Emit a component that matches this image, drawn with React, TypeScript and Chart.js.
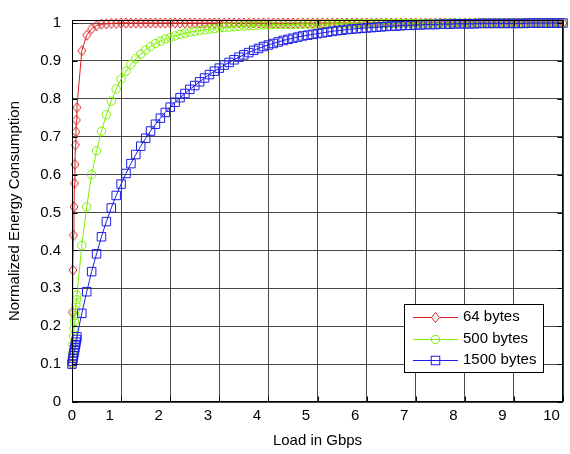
import React, { useEffect, useRef } from 'react';
import { Chart, registerables } from 'chart.js';

Chart.register(...registerables);

// Load in Gbps (shared sampling for all three curves)
const loads = [
  0, 0.01, 0.02, 0.03, 0.04, 0.05, 0.06, 0.07, 0.08, 0.09, 0.1,
  0.2, 0.3, 0.4, 0.5, 0.6, 0.7, 0.8, 0.9, 1,
  1.1, 1.2, 1.3, 1.4, 1.5, 1.6, 1.7, 1.8, 1.9, 2,
  2.1, 2.2, 2.3, 2.4, 2.5, 2.6, 2.7, 2.8, 2.9, 3,
  3.1, 3.2, 3.3, 3.4, 3.5, 3.6, 3.7, 3.8, 3.9, 4,
  4.1, 4.2, 4.3, 4.4, 4.5, 4.6, 4.7, 4.8, 4.9, 5,
  5.1, 5.2, 5.3, 5.4, 5.5, 5.6, 5.7, 5.8, 5.9, 6,
  6.1, 6.2, 6.3, 6.4, 6.5, 6.6, 6.7, 6.8, 6.9, 7,
  7.1, 7.2, 7.3, 7.4, 7.5, 7.6, 7.7, 7.8, 7.9, 8,
  8.1, 8.2, 8.3, 8.4, 8.5, 8.6, 8.7, 8.8, 8.9, 9,
  9.1, 9.2, 9.3, 9.4, 9.5, 9.6, 9.7, 9.8, 9.9, 10,
];

const energy64 = [
  0.1, 0.237, 0.348, 0.44, 0.515, 0.577, 0.627, 0.678, 0.713, 0.744, 0.777,
  0.927, 0.968, 0.985, 0.993, 0.997, 0.998, 0.999, 0.999, 1,
  1, 1, 1, 1, 1, 1, 1, 1, 1, 1,
  1, 1, 1, 1, 1, 1, 1, 1, 1, 1,
  1, 1, 1, 1, 1, 1, 1, 1, 1, 1,
  1, 1, 1, 1, 1, 1, 1, 1, 1, 1,
  1, 1, 1, 1, 1, 1, 1, 1, 1, 1,
  1, 1, 1, 1, 1, 1, 1, 1, 1, 1,
  1, 1, 1, 1, 1, 1, 1, 1, 1, 1,
  1, 1, 1, 1, 1, 1, 1, 1, 1, 1,
  1, 1, 1, 1, 1, 1, 1, 1, 1, 1,
];

const energy500 = [
  0.1, 0.128, 0.152, 0.174, 0.194, 0.212, 0.228, 0.243, 0.257, 0.27, 0.282,
  0.413, 0.515, 0.6, 0.663, 0.715, 0.758, 0.794, 0.826, 0.852,
  0.873, 0.891, 0.906, 0.918, 0.929, 0.938, 0.946, 0.952, 0.958, 0.962,
  0.966, 0.97, 0.973, 0.976, 0.978, 0.98, 0.982, 0.984, 0.985, 0.987,
  0.988, 0.989, 0.99, 0.991, 0.992, 0.993, 0.993, 0.994, 0.995, 0.995,
  0.996, 0.996, 0.996, 0.996, 0.996, 0.997, 0.997, 0.997, 0.997, 0.997,
  0.997, 0.997, 0.998, 0.998, 0.998, 0.998, 0.998, 0.998, 0.998, 0.998,
  0.999, 0.999, 0.999, 0.999, 0.999, 0.999, 0.999, 0.999, 0.999, 0.999,
  0.999, 0.999, 0.999, 0.999, 0.999, 1, 1, 1, 1, 1,
  1, 1, 1, 1, 1, 1, 1, 1, 1, 1,
  1, 1, 1, 1, 1, 1, 1, 1, 1, 1,
];

const energy1500 = [
  0.1, 0.108, 0.115, 0.122, 0.13, 0.137, 0.144, 0.151, 0.158, 0.165, 0.172,
  0.234, 0.291, 0.344, 0.391, 0.436, 0.476, 0.512, 0.545, 0.575,
  0.603, 0.629, 0.653, 0.675, 0.696, 0.715, 0.733, 0.749, 0.764, 0.778,
  0.791, 0.803, 0.814, 0.825, 0.835, 0.845, 0.855, 0.864, 0.873, 0.881,
  0.889, 0.896, 0.903, 0.91, 0.916, 0.922, 0.928, 0.933, 0.938, 0.942,
  0.946, 0.95, 0.954, 0.957, 0.96, 0.963, 0.966, 0.968, 0.97, 0.972,
  0.974, 0.976, 0.978, 0.98, 0.981, 0.983, 0.984, 0.985, 0.986, 0.987,
  0.988, 0.989, 0.99, 0.991, 0.992, 0.992, 0.993, 0.994, 0.994, 0.995,
  0.995, 0.996, 0.996, 0.996, 0.997, 0.997, 0.997, 0.998, 0.998, 0.998,
  0.998, 0.998, 0.999, 0.999, 0.999, 0.999, 0.999, 0.999, 0.999, 0.999,
  0.999, 0.999, 1, 1, 1, 1, 1, 1, 1, 1,
];

const seriesNames = ['64 bytes', '500 bytes', '1500 bytes'];
const xTickValues = [0, 1, 2, 3, 4, 5, 6, 7, 8, 9, 10];
const xTickLabels = ['0', '1', '2', '3', '4', '5', '6', '7', '8', '9', '10'];
const yTickValues = [0, 0.1, 0.2, 0.3, 0.4, 0.5, 0.6, 0.7, 0.8, 0.9, 1];
const yTickLabels = ['0', '0.1', '0.2', '0.3', '0.4', '0.5', '0.6', '0.7', '0.8', '0.9', '1'];
const xTitle = 'Load in Gbps';
const yTitle = 'Normalized Energy Consumption';

const FONT = '"Liberation Sans", Arial, Helvetica, sans-serif';
const FONT_SIZE = 15;
const RED = '#dc1e1e';
const GREEN = '#7cf000';
const BLUE = '#1e1ee6';
const GRID = 'rgba(0,0,0,0.72)';

function makeDiamond(color: string, w: number, h: number) {
  const c = document.createElement('canvas');
  c.width = w + 2;
  c.height = h + 2;
  const g = c.getContext('2d')!;
  g.strokeStyle = color;
  g.lineWidth = 1;
  g.beginPath();
  g.moveTo(c.width / 2, 1);
  g.lineTo(c.width - 1, c.height / 2);
  g.lineTo(c.width / 2, c.height - 1);
  g.lineTo(1, c.height / 2);
  g.closePath();
  g.stroke();
  return c;
}

export default function App() {
  const ref = useRef<HTMLCanvasElement | null>(null);

  useEffect(() => {
    const canvas = ref.current;
    if (!canvas) return;
    const diamond = makeDiamond(RED, 8, 10);

    const toPoints = (ys: number[]) => loads.map((x, i) => ({ x, y: ys[i] }));

    const decor = {
      id: 'decor',
      afterDraw(chart: any) {
        const ctx = chart.ctx as CanvasRenderingContext2D;
        const area = chart.chartArea;
        const xs = chart.scales.x;
        const ys = chart.scales.y;
        const L = Math.round(area.left) + 0.5;
        const R = Math.round(area.right) - 0.5;
        const T = Math.round(area.top) + 0.5;
        const B = Math.round(area.bottom) - 0.5;
        ctx.save();
        // inward tick marks
        ctx.strokeStyle = '#000';
        ctx.lineWidth = 1;
        ctx.beginPath();
        yTickValues.forEach((v) => {
          const py = Math.round(ys.getPixelForValue(v)) + 0.5;
          ctx.moveTo(L, py); ctx.lineTo(L + 5, py);
          ctx.moveTo(R, py); ctx.lineTo(R - 5, py);
        });
        xTickValues.forEach((v) => {
          const px = Math.round(xs.getPixelForValue(v)) + 0.5;
          ctx.moveTo(px, B); ctx.lineTo(px, B - 5);
          ctx.moveTo(px, T); ctx.lineTo(px, T + 5);
        });
        ctx.stroke();
        // frame
        ctx.strokeRect(L, T, R - L, B - T);

        // x tick labels
        ctx.fillStyle = '#000';
        ctx.font = `${FONT_SIZE}px ${FONT}`;
        ctx.textAlign = 'center';
        ctx.textBaseline = 'middle';
        xTickValues.forEach((v, i) => {
          const px = xs.getPixelForValue(v) + (v === 0 ? 0 : -11.5);
          ctx.fillText(xTickLabels[i], px, area.bottom + 14);
        });
        // titles
        ctx.fillText(xTitle, (area.left + area.right) / 2, 441);
        ctx.save();
        ctx.translate(15, (area.top + area.bottom) / 2);
        ctx.rotate(-Math.PI / 2);
        ctx.fillText(yTitle, 0, 0);
        ctx.restore();

        // legend
        const bx = 404.5, by = 304.5, bw = 139, bh = 68;
        ctx.fillStyle = '#fff';
        ctx.fillRect(bx, by, bw, bh);
        ctx.strokeStyle = '#000';
        ctx.strokeRect(bx, by, bw, bh);
        const rows = [317, 339, 360];
        const colors = [RED, GREEN, BLUE];
        rows.forEach((ry, i) => {
          const yy = ry + 0.5;
          ctx.strokeStyle = colors[i];
          ctx.lineWidth = 1;
          ctx.beginPath();
          ctx.moveTo(413, yy);
          ctx.lineTo(458, yy);
          ctx.stroke();
          const mx = 435.5;
          if (i === 0) {
            ctx.fillStyle = '#fff';
            ctx.beginPath();
            ctx.moveTo(mx, yy - 5); ctx.lineTo(mx + 4, yy); ctx.lineTo(mx, yy + 5); ctx.lineTo(mx - 4, yy); ctx.closePath();
            ctx.fill();
            ctx.stroke();
          } else if (i === 1) {
            ctx.beginPath();
            ctx.arc(mx, yy, 4.2, 0, Math.PI * 2);
            ctx.stroke();
          } else {
            ctx.strokeRect(mx - 4.25, yy - 4.25, 8.5, 8.5);
          }
          ctx.fillStyle = '#000';
          ctx.textAlign = 'left';
          ctx.fillText(seriesNames[i], 463, ry);
        });
        ctx.restore();
      },
    };

    const chart = new Chart(canvas, {
      type: 'line',
      data: {
        datasets: [
          {
            label: seriesNames[0],
            data: toPoints(energy64),
            borderColor: RED,
            borderWidth: 1,
            pointStyle: diamond as any,
            pointRadius: 5,
            order: 2,
            clip: false as any,
          },
          {
            label: seriesNames[1],
            data: toPoints(energy500),
            borderColor: GREEN,
            borderWidth: 1,
            pointStyle: 'circle',
            pointRadius: 4.2,
            pointBorderWidth: 1,
            pointBorderColor: GREEN,
            pointBackgroundColor: 'rgba(0,0,0,0)',
            order: 1,
            clip: false as any,
          },
          {
            label: seriesNames[2],
            data: toPoints(energy1500),
            borderColor: BLUE,
            borderWidth: 1,
            pointStyle: 'rect',
            pointRadius: 6,
            pointBorderWidth: 1,
            pointBorderColor: BLUE,
            pointBackgroundColor: 'rgba(0,0,0,0)',
            order: 0,
            clip: false as any,
          },
        ],
      },
      options: {
        responsive: false,
        animation: false,
        events: [],
        layout: { padding: { left: 0, right: 3, top: 12, bottom: 0 } },
        plugins: {
          legend: { display: false },
          tooltip: { enabled: false },
        },
        scales: {
          x: {
            type: 'linear',
            min: 0,
            max: 10,
            afterBuildTicks: (s: any) => {
              s.ticks = xTickValues.map((v) => ({ value: v }));
            },
            afterFit: (s: any) => {
              s.height = 52;
            },
            ticks: { display: false },
            grid: { color: GRID, lineWidth: 1, drawTicks: false },
            border: { display: false },
          },
          y: {
            type: 'linear',
            min: 0,
            max: 1.008,
            afterBuildTicks: (s: any) => {
              s.ticks = yTickValues.map((v) => ({ value: v }));
            },
            afterFit: (s: any) => {
              s.width = 72;
            },
            ticks: {
              padding: 11,
              color: '#000',
              font: { family: FONT, size: FONT_SIZE },
              callback: (_v: any, i: number) => yTickLabels[i],
            },
            grid: { color: GRID, lineWidth: 1, drawTicks: false },
            border: { display: false },
          },
        },
      },
      plugins: [decor],
    });

    return () => chart.destroy();
  }, []);

  return (
    <div style={{ position: 'absolute', left: 0, top: 0, width: 570, height: 454, background: '#fff' }}>
      <canvas ref={ref} width={570} height={454} style={{ display: 'block' }} />
    </div>
  );
}
